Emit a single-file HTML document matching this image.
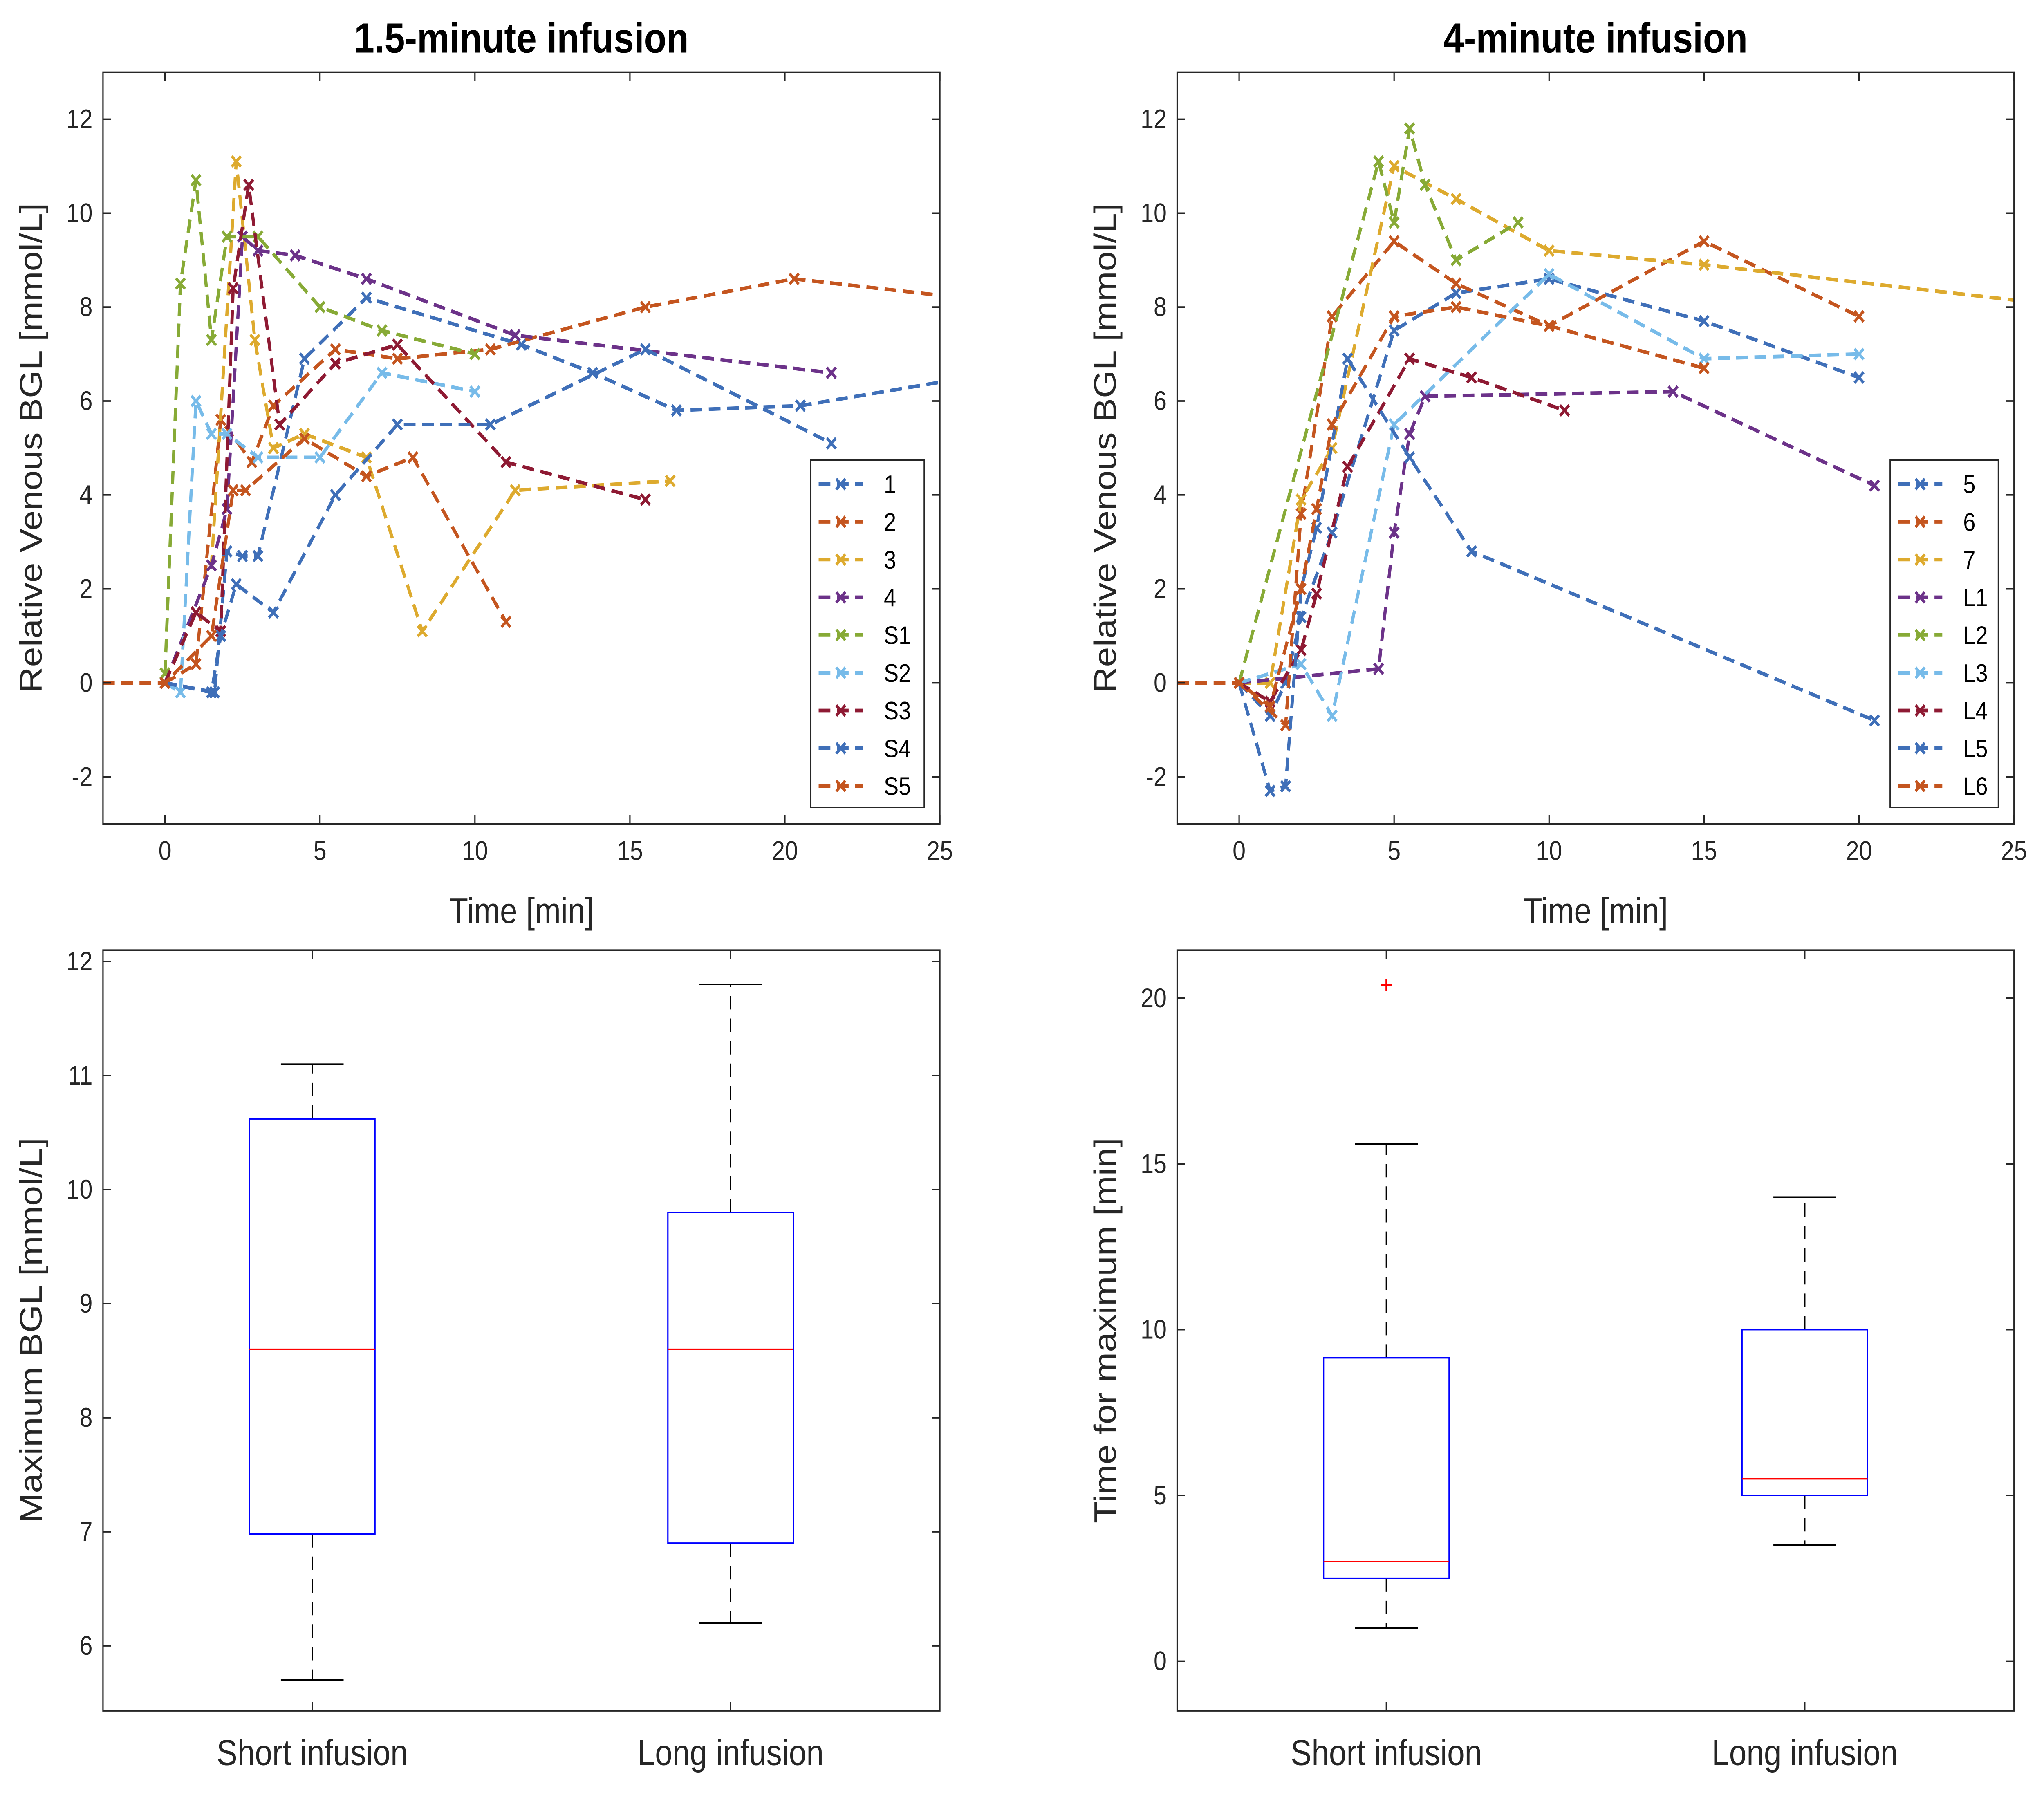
<!DOCTYPE html>
<html><head><meta charset="utf-8"><style>html,body{margin:0;padding:0;background:#fff;width:100%;height:100%;overflow:hidden}svg{display:block;position:fixed;left:0;top:0;width:100vw;height:100vh;font-family:"Liberation Sans",Arial,sans-serif}</style></head>
<body>
<svg id="fig" viewBox="0 0 1568 1194" preserveAspectRatio="none" xmlns="http://www.w3.org/2000/svg">
<defs>
<clipPath id="clipL"><rect x="79" y="48" width="642" height="500"/></clipPath>
<clipPath id="clipR"><rect x="903" y="48" width="642" height="500"/></clipPath>
</defs>
<rect x="0" y="0" width="1568" height="1194" fill="#fff"/>
<text x="400" y="35" text-anchor="middle" font-size="28" font-weight="bold">1.5-minute infusion</text>
<text x="1224" y="35" text-anchor="middle" font-size="28" font-weight="bold">4-minute infusion</text>
<g id="root"></g>
</svg>
<script>
// ---- data ----
const colors = ["#3F6FB8","#C4551F","#DDAA2E","#6C3289","#87AA36","#77BBE9","#8E1A33"];
const namesShort = ["1","2","3","4","S1","S2","S3","S4","S5"];
const colorIdxShort = [0,1,2,3,4,5,6,0,1];
const seriesShort = [
 [[0,0],[1.6,-0.2],[2,2.8],[2.5,2.7],[3,2.7],[4.5,6.9],[6.5,8.2],[11.5,7.2],[13.8,6.6],[16.5,5.8],[20.5,5.9],[25,6.4]],
 [[0,0],[1,0.4],[1.8,5.6],[2.8,4.7],[3.5,5.9],[5.5,7.1],[7.5,6.9],[10.5,7.1],[15.5,8.0],[20.3,8.6],[25,8.25]],
 [[0,0],[1.5,2.5],[2.3,11.1],[2.9,7.3],[3.5,5.0],[4.5,5.3],[6.5,4.8],[8.3,1.1],[11.3,4.1],[16.3,4.3]],
 [[0,0],[1.5,2.5],[2,3.7],[2.5,9.5],[3,9.2],[4.2,9.1],[6.5,8.6],[11.3,7.4],[21.5,6.6]],
 [[0,0.2],[0.5,8.5],[1,10.7],[1.5,7.3],[2,9.5],[3,9.5],[5,8],[7,7.5],[10,7.0]],
 [[0,0],[0.5,-0.2],[1,6.0],[1.5,5.3],[2,5.3],[3,4.8],[5,4.8],[7,6.6],[10,6.2]],
 [[0,0],[1,1.5],[1.8,1.1],[2.2,8.4],[2.7,10.6],[3.7,5.5],[5.5,6.8],[7.5,7.2],[11,4.7],[15.5,3.9]],
 [[0,0],[1.5,-0.2],[1.8,1.0],[2.3,2.1],[3.5,1.5],[5.5,4.0],[7.5,5.5],[10.5,5.5],[15.5,7.1],[21.5,5.1]],
 [[-2,0],[0,0],[1.5,1.0],[2.2,4.1],[2.6,4.1],[4.5,5.2],[6.5,4.4],[8,4.8],[11,1.3]]
];
const namesLong = ["5","6","7","L1","L2","L3","L4","L5","L6"];
const colorIdxLong = [0,1,2,3,4,5,6,0,1];
const seriesLong = [
 [[0,0],[1,-0.7],[1.5,0],[2,1.4],[3,3.2],[5,7.5],[7,8.3],[10,8.6],[15,7.7],[20,6.5]],
 [[0,0],[1.5,-0.9],[2,3.6],[3,7.8],[5,9.4],[7,8.5],[10,7.6],[15,9.4],[20,7.8]],
 [[0,0],[1,0],[2,3.9],[3,5.0],[5,11.0],[7,10.3],[10,9.2],[15,8.9],[25,8.15]],
 [[0,0],[4.5,0.3],[5,3.2],[5.5,5.3],[6,6.1],[14,6.2],[20.5,4.2]],
 [[0,0],[4.5,11.1],[5,9.8],[5.5,11.8],[6,10.6],[7,9.0],[9,9.8]],
 [[0,0],[2,0.4],[3,-0.7],[5,5.5],[10,8.7],[15,6.9],[20,7.0]],
 [[0,0],[1,-0.4],[2,0.7],[2.5,1.9],[3.5,4.6],[5.5,6.9],[7.5,6.5],[10.5,5.8]],
 [[0,0],[1,-2.3],[1.5,-2.2],[2,2.0],[2.5,3.3],[3.5,6.9],[5.5,4.8],[7.5,2.8],[20.5,-0.8]],
 [[-2,0],[0,0],[1,-0.5],[2,2.0],[2.5,3.7],[3,5.5],[5,7.8],[7,8.0],[10,7.6],[15,6.7]]
];
const xTicksTop = [0,5,10,15,20,25];
const yTicksTop = [-2,0,2,4,6,8,10,12];
const boxCats = ["Short infusion","Long infusion"];
const boxMax = [[5.7,6.98,8.6,10.62,11.1],[6.2,6.9,8.6,9.8,11.8]];
const boxTime = [[1.0,2.5,3.0,9.15,15.6],[3.5,5.0,5.5,10.0,14.0]];
const outliersTime = [[20.4],[]];
const yTicksMax = [6,7,8,9,10,11,12];
const yTicksTime = [0,5,10,15,20];

const NS="http://www.w3.org/2000/svg";
const root=document.getElementById('root');
function el(tag,attrs,parent){const e=document.createElementNS(NS,tag);for(const k in attrs)e.setAttribute(k,attrs[k]);(parent||root).appendChild(e);return e;}
function scale(d0,d1,r0,r1){return v=>r0+(v-d0)/(d1-d0)*(r1-r0);}
const AX="#262626";

function axesFrame(x0,y0,w,h,name){
  const r=el('rect',{x:x0,y:y0,width:w,height:h,fill:'none',stroke:AX,'stroke-width':1});
  
  
}
function yTicksDraw(ticks,sy,x0,w,name){
  ticks.forEach(t=>{
    const y=sy(t);
    const l=el('path',{d:`M${x0} ${y}h6M${x0+w} ${y}h-6`,stroke:AX,'stroke-width':1});
    
    
    const tx=el('text',{x:x0-8,y:y+6,'text-anchor':'end','font-size':18,fill:AX});
    tx.textContent=t;
    
    
  });
}
function xTicksDraw(ticks,labels,sx,y0,h,name){
  ticks.forEach((t,i)=>{
    const x=sx(t);
    const l=el('path',{d:`M${x} ${y0+h}v-6M${x} ${y0}v6`,stroke:AX,'stroke-width':1});
    
    
    const tx=el('text',{x:x,y:y0+h+labels.dy,'text-anchor':'middle','font-size':labels.fs,fill:AX});
    tx.textContent=labels.list[i];
    
    
  });
}
function label(x,y,txt,rot,name){
  const t=el('text',{x:x,y:y,'text-anchor':'middle','font-size':24,fill:AX,transform:rot?`rotate(-90 ${x} ${y})`:''});
  t.textContent=txt;
  
  
}
function marker(x,y,c,g){
  const m=el('path',{d:`M${x-3.5} ${y-3.5}L${x+3.5} ${y+3.5}M${x-3.5} ${y+3.5}L${x+3.5} ${y-3.5}`,stroke:c,'stroke-width':2},g);
  
  
}
function linePanel(x0,series,names,cidx,clip,name,lx){
  const y0=48,w=642,h=500;
  const sx=scale(-2,25,x0,x0+w), sy=scale(-3,13,y0+h,y0);
  const g=el('g',{'clip-path':`url(#${clip})`});
  
  
  series.forEach((s,i)=>{
    const c=colors[cidx[i]];
    const p=el('polyline',{points:s.map(d=>sx(d[0])+','+sy(d[1])).join(' '),fill:'none',stroke:c,'stroke-width':2.4,'stroke-dasharray':'9 5'},g);
    
    
    s.forEach(d=>{if(d[0]>-2&&d[0]<25)marker(sx(d[0]),sy(d[1]),c,g);});
  });
  axesFrame(x0,y0,w,h,name);
  yTicksDraw(yTicksTop,sy,x0,w,name);
  xTicksDraw(xTicksTop,{list:xTicksTop,dy:24,fs:18},sx,y0,h,name);
  label(x0+321,614,'Time [min]',false,name+'-x-axis-title');
  label(x0-47,298,'Relative Venous BGL [mmol/L]',true,name+'-y-axis-title');
  const lg=el('g',{});
  
  
  el('rect',{x:lx,y:306,width:lx===622?87:83,height:231,fill:'#fff',stroke:AX,'stroke-width':1},lg);
  names.forEach((n,i)=>{
    const y=322+i*25.1, c=colors[cidx[i]];
    const e=el('g',{},lg);
    
    
    el('line',{x1:lx+6,x2:lx+40,y1:y,y2:y,stroke:c,'stroke-width':2.4,'stroke-dasharray':'9 5'},e);
    marker(lx+23,y,c,e);
    const t=el('text',{x:lx+56,y:y+6,'font-size':17,fill:'#000'},e);
    t.textContent=n;
  });
}
linePanel(79,seriesShort,namesShort,colorIdxShort,'clipL','short-line',622);
linePanel(903,seriesLong,namesLong,colorIdxLong,'clipR','long-line',1450);

function boxPanel(x0,data,outl,ylo,yhi,ticks,name,ytitle){
  const y0=632,w=642,h=506;
  const sx=scale(0.5,2.5,x0,x0+w), sy=scale(ylo,yhi,y0+h,y0);
  data.forEach((d,i)=>{
    const cx=sx(i+1), hw=sx(1.15)-sx(1), cw=sx(1.075)-sx(1);
    const g=el('g',{});
    
    
    el('line',{x1:cx,x2:cx,y1:sy(d[3]),y2:sy(d[4]),stroke:'#000','stroke-dasharray':'9 6','stroke-width':1},g);
    el('line',{x1:cx,x2:cx,y1:sy(d[1]),y2:sy(d[0]),stroke:'#000','stroke-dasharray':'9 6','stroke-width':1},g);
    el('line',{x1:cx-cw,x2:cx+cw,y1:sy(d[4]),y2:sy(d[4]),stroke:'#000','stroke-width':1},g);
    el('line',{x1:cx-cw,x2:cx+cw,y1:sy(d[0]),y2:sy(d[0]),stroke:'#000','stroke-width':1},g);
    el('rect',{x:cx-hw,y:sy(d[3]),width:2*hw,height:sy(d[1])-sy(d[3]),fill:'none',stroke:'#0000FF','stroke-width':1},g);
    el('line',{x1:cx-hw,x2:cx+hw,y1:sy(d[2]),y2:sy(d[2]),stroke:'#FF0000','stroke-width':1},g);
    (outl[i]||[]).forEach(o=>{
      const m=el('path',{d:`M${cx-4} ${sy(o)}h8M${cx} ${sy(o)-4}v8`,stroke:'#FF0000','stroke-width':1.3},g);
      
      
    });
  });
  axesFrame(x0,y0,w,h,name);
  yTicksDraw(ticks,sy,x0,w,name);
  xTicksDraw([1,2],{list:boxCats,dy:36,fs:24},sx,y0,h,name);
  label(x0-47,y0+h/2,ytitle,true,name+'-y-axis-title');
}
boxPanel(79,boxMax,[[],[]],5.43,12.1,yTicksMax,'max-box','Maximum BGL [mmol/L]');
boxPanel(903,boxTime,outliersTime,-1.5,21.45,yTicksTime,'time-box','Time for maximum [min]');
</script>
</body></html>
